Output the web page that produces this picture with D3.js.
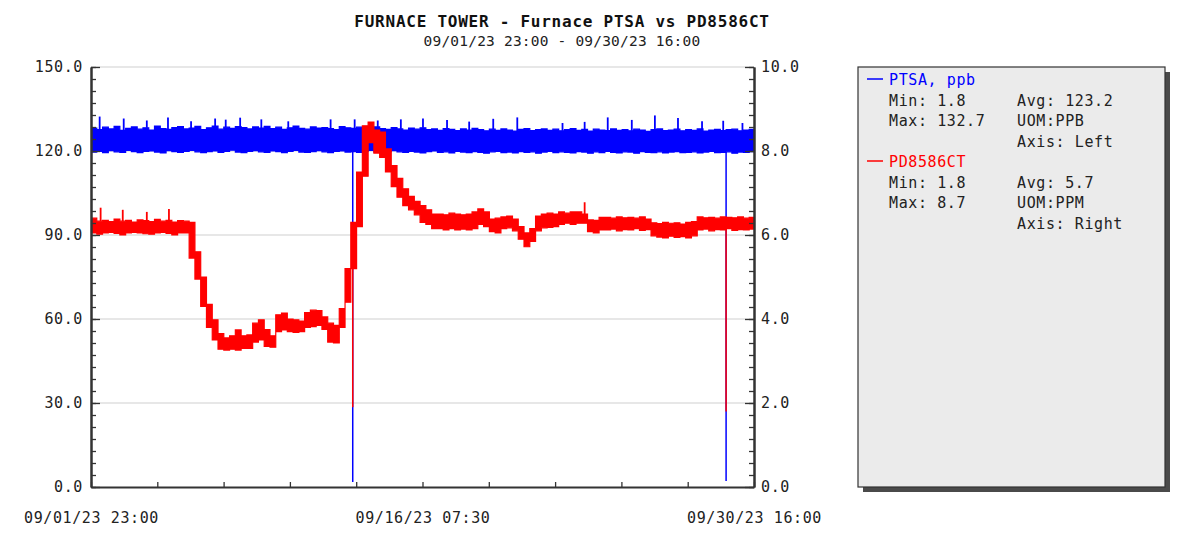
<!DOCTYPE html>
<html>
<head>
<meta charset="utf-8">
<script src="https://cdn.jsdelivr.net/npm/d3@7"></script>
<style>
  body { margin: 0; background: #fff; }
  svg text { font-family: "DejaVu Sans Mono", monospace; fill: #222; }
  .axis path, .axis line { stroke: #333; }
</style>
</head>
<body>
<div id="chart"></div>
<script>
// time span of the trend
var startTime = new Date(2023, 8, 1, 23, 0);
var endTime = new Date(2023, 8, 30, 16, 0);
var titleText = "FURNACE TOWER - Furnace PTSA vs PD8586CT";
var subtitleText = "09/01/23 23:00 - 09/30/23 16:00";
var xTickLabels = ["09/01/23 23:00", "09/16/23 07:30", "09/30/23 16:00"];
var leftTicks = [0, 30, 60, 90, 120, 150];
var rightTicks = [0, 2, 4, 6, 8, 10];

// one reading band (low / high) every 6 hours
var sampleHours = d3.range(0, 691, 6);

var ptsaHigh = [128.2,127.6,128.5,127.9,128.8,127.4,128.1,128.6,127.8,128.3,127.5,128.9,128.0,127.7,128.4,128.7,127.9,128.2,128.8,127.6,
  128.3,128.9,127.8,128.5,128.1,128.7,128.4,127.9,128.6,128.2,128.8,128.0,128.5,127.7,128.3,128.9,128.1,127.8,128.6,128.2,
  128.4,128.0,127.6,128.7,128.3,128.1,128.5,128.2,127.9,128.6,128.0,127.7,128.4,127.9,127.5,128.2,127.8,128.3,127.6,127.9,
  127.4,128.0,127.7,127.3,127.9,127.5,128.1,127.6,127.2,127.8,127.4,127.9,127.5,127.1,127.7,128.0,127.3,127.6,127.9,127.4,
  127.8,127.2,127.6,128.0,127.4,127.7,127.1,127.8,127.5,127.3,127.9,127.4,127.6,127.2,127.8,127.5,127.0,127.6,127.9,127.3,
  127.5,127.8,127.2,127.6,127.4,127.9,127.1,127.5,127.7,127.3,127.6,127.8,127.2,127.5,127.7,127.4];
var ptsaLow = [119.6,119.9,119.4,120.1,119.7,119.5,120.2,119.8,119.4,119.9,120.0,119.6,119.3,120.1,119.8,119.5,119.9,120.2,119.7,119.4,
  119.8,120.0,119.5,119.9,120.3,119.6,119.4,119.9,120.1,119.7,119.5,120.0,119.8,119.4,119.9,120.2,119.6,119.5,119.8,120.1,
  119.7,119.4,119.9,120.0,119.6,119.8,119.5,119.9,120.2,119.6,119.4,119.8,120.1,119.7,119.5,119.9,119.6,119.3,119.8,120.0,
  119.5,119.7,119.3,119.9,119.6,119.4,119.8,119.5,119.2,119.7,119.9,119.4,119.6,119.3,119.8,119.5,119.7,119.2,119.6,119.9,
  119.4,119.7,119.5,119.3,119.8,119.6,119.2,119.7,119.4,119.9,119.5,119.3,119.7,119.6,119.2,119.8,119.5,119.4,119.7,119.3,
  119.6,119.8,119.4,119.5,119.7,119.3,119.6,119.9,119.4,119.5,119.7,119.2,119.6,119.5,119.8,119.4];
var ptsaSpikeHours = [9, 34, 58, 80, 104, 129, 140, 155, 177, 205, 249, 274, 298, 322, 345, 370, 393, 418, 443, 490, 513, 537, 562, 586, 610, 635, 657, 677];
var ptsaSpikeValues = [132.3, 131.6, 130.9, 132.0, 130.6, 131.6, 131.2, 131.9, 131.3, 130.6, 131.3, 131.3, 130.9, 131.3, 131.6, 131.1, 130.5, 131.5, 132.0, 130.0, 130.4, 132.0, 131.1, 132.7, 131.8, 130.6, 130.8, 130.0];
var ptsaDipHours = [272, 660];
var ptsaDipValues = [1.8, 2.1];

var pdLow = [6.05,6.02,6.05,6.06,6.04,6.0,6.05,6.06,6.05,6.03,6.02,6.05,6.06,6.04,6.0,6.05,6.05,
  5.45,4.95,4.3,3.8,3.5,3.28,3.26,3.28,3.26,3.3,3.3,3.45,3.5,3.35,3.33,
  3.7,3.74,3.7,3.68,3.7,3.8,3.82,3.85,3.75,3.45,3.43,3.8,4.4,5.2,6.2,7.4,
  8.2,7.95,7.85,7.5,7.15,6.9,6.7,6.6,6.48,6.3,6.25,6.15,
  6.15,6.12,6.15,6.12,6.14,6.12,6.15,6.25,6.2,6.08,6.05,6.15,6.17,6.1,5.9,5.72,5.85,
  6.1,6.17,6.18,6.2,6.25,6.28,6.25,6.28,6.28,6.08,6.05,6.12,
  6.12,6.14,6.1,6.13,6.12,6.15,6.11,6.13,
  5.98,5.95,5.93,5.97,5.94,5.96,5.93,5.98,
  6.12,6.14,6.1,6.13,6.12,6.15,6.11,6.13,6.12,6.14,6.12];
var pdHigh = [6.4,6.33,6.35,6.32,6.38,6.33,6.35,6.31,6.36,6.34,6.32,6.37,6.33,6.35,6.31,6.34,6.33,
  6.3,5.6,5.0,4.35,3.98,3.65,3.55,3.6,3.74,3.6,3.62,3.9,3.98,3.75,3.6,
  4.1,4.14,4.0,3.98,3.95,4.15,4.21,4.2,4.05,3.9,3.85,4.25,5.2,6.3,7.5,8.6,
  8.69,8.5,8.45,8.05,7.65,7.35,7.1,6.92,6.8,6.7,6.6,6.5,
  6.5,6.48,6.52,6.5,6.48,6.5,6.55,6.62,6.55,6.38,6.4,6.43,6.45,6.38,6.2,6.05,6.15,
  6.45,6.5,6.52,6.5,6.55,6.52,6.55,6.55,6.5,6.36,6.35,6.42,
  6.42,6.4,6.43,6.41,6.42,6.4,6.43,6.38,
  6.29,6.27,6.3,6.28,6.29,6.26,6.3,6.32,
  6.43,6.41,6.42,6.4,6.43,6.42,6.41,6.43,6.4,6.42,6.41];
var pdSpikeHours = [10, 33, 58, 81, 513];
var pdSpikeValues = [6.65, 6.6, 6.55, 6.62, 6.78];
var pdDipHours = [272, 660];
var pdDipValues = [1.9, 1.8];

var legendRows = [
  { name: "PTSA, ppb", color: "#0000ff", min: "1.8", max: "132.7", avg: "123.2", uom: "PPB", axis: "Left" },
  { name: "PD8586CT", color: "#ff0000", min: "1.8", max: "8.7", avg: "5.7", uom: "PPM", axis: "Right" }
];

var margin = { left: 91, top: 67, right: 436, bottom: 50 };
var width = 663, height = 420;

var svg = d3.select("#chart").append("svg")
    .attr("width", 1190)
    .attr("height", 537);

var hourTime = function(h){ return new Date(startTime.getTime() + h * 3600000); };

var x = d3.scaleTime().domain([startTime, endTime]).range([0, width]);
var yLeft = d3.scaleLinear().domain([0, 150]).range([height, 0]);
var yRight = d3.scaleLinear().domain([0, 10]).range([height, 0]);

// titles
svg.append("text").attr("x", 562).attr("y", 27).attr("text-anchor", "middle")
    .style("font-size", "16px").style("font-weight", "bold").style("letter-spacing", "0.75px")
    .style("fill", "#111").text(titleText);
svg.append("text").attr("x", 562).attr("y", 46).attr("text-anchor", "middle")
    .style("font-size", "14.5px").style("letter-spacing", "0.2px").text(subtitleText);

var g = svg.append("g").attr("transform", "translate(" + margin.left + "," + margin.top + ")");

g.append("clipPath").attr("id", "plotclip")
  .append("rect").attr("x", 0).attr("y", -10).attr("width", width).attr("height", height + 10);

// grid lines
g.append("g").selectAll("line").data(leftTicks.filter(function(d){ return d > 0; }))
  .enter().append("line")
    .attr("x1", 0).attr("x2", width)
    .attr("y1", function(d){ return yLeft(d); }).attr("y2", function(d){ return yLeft(d); })
    .style("stroke", "#cfcfcf").style("stroke-width", 1.2);

var plot = g.append("g").attr("clip-path", "url(#plotclip)");

function bucketOf(h){ return Math.min(sampleHours.length - 1, Math.floor(h / 6)); }

function drawSeries(lo, hi, yScale, color, spikeH, spikeV, dipH, dipV){
    var band = sampleHours.map(function(h, i){ return { t: hourTime(h), lo: lo[i], hi: hi[i] }; });
    var area = d3.area().curve(d3.curveStepAfter)
        .x(function(d){ return x(d.t); })
        .y0(function(d){ return yScale(d.lo); })
        .y1(function(d){ return yScale(d.hi); });
    plot.append("path").datum(band).attr("d", area)
        .style("fill", color).style("stroke", color).style("stroke-width", 1.2);

    var spikes = spikeH.map(function(h, i){ return { t: hourTime(h), from: hi[bucketOf(h)], to: spikeV[i] }; });
    plot.append("g").selectAll("line").data(spikes).enter().append("line")
        .attr("x1", function(d){ return x(d.t); }).attr("x2", function(d){ return x(d.t); })
        .attr("y1", function(d){ return yScale(d.from); }).attr("y2", function(d){ return yScale(d.to); })
        .style("stroke", color).style("stroke-width", 1.8);

    var dips = dipH.map(function(h, i){ return { t: hourTime(h), from: lo[bucketOf(h)], to: dipV[i] }; });
    plot.append("g").selectAll("line").data(dips).enter().append("line")
        .attr("x1", function(d){ return x(d.t); }).attr("x2", function(d){ return x(d.t); })
        .attr("y1", function(d){ return yScale(d.from); }).attr("y2", function(d){ return yScale(d.to); })
        .style("stroke", color).style("stroke-width", 1.5);
}

drawSeries(ptsaLow, ptsaHigh, yLeft, "#0000ff", ptsaSpikeHours, ptsaSpikeValues, ptsaDipHours, ptsaDipValues);
drawSeries(pdLow, pdHigh, yRight, "#ff0000", pdSpikeHours, pdSpikeValues, pdDipHours, pdDipValues);

// axes: 7 minor steps per labelled step, all ticks point inward
var minorLeft = d3.range(36).map(function(i){ return i * 150 / 35; });
var minorRight = d3.range(36).map(function(i){ return i * 10 / 35; });

function styleAxis(sel){
    sel.selectAll("path").style("stroke-width", 2);
    sel.selectAll("line").style("stroke-width", 1.3);
    sel.selectAll("text").style("font-size", "15px").style("letter-spacing", "0.6px").style("fill", "#222");
}

g.append("g").attr("class", "axis")
    .call(d3.axisLeft(yLeft).tickValues(minorLeft).tickFormat("").tickSizeInner(-5).tickSizeOuter(0))
    .call(styleAxis);
g.append("g").attr("class", "axis")
    .call(d3.axisLeft(yLeft).tickValues(leftTicks).tickFormat(d3.format(".1f")).tickSizeInner(-9).tickSizeOuter(0).tickPadding(8))
    .call(styleAxis);

g.append("g").attr("class", "axis").attr("transform", "translate(" + width + ",0)")
    .call(d3.axisRight(yRight).tickValues(minorRight).tickFormat("").tickSizeInner(-5).tickSizeOuter(0))
    .call(styleAxis);
g.append("g").attr("class", "axis").attr("transform", "translate(" + width + ",0)")
    .call(d3.axisRight(yRight).tickValues(rightTicks).tickFormat(d3.format(".1f")).tickSizeInner(-9).tickSizeOuter(0).tickPadding(7))
    .call(styleAxis);

var spanMs = endTime - startTime;
var xTicks = d3.range(11).map(function(i){ return new Date(startTime.getTime() + spanMs * i / 10); });
g.append("g").attr("class", "axis").attr("transform", "translate(0," + height + ")")
    .call(d3.axisBottom(x).tickValues(xTicks)
        .tickFormat(function(d, i){ return i % 5 === 0 ? xTickLabels[i / 5] : ""; })
        .tickSizeInner(-5).tickSizeOuter(0).tickPadding(25))
    .call(styleAxis);

// legend panel
var lg = svg.append("g").attr("transform", "translate(858,67)");
lg.append("rect").attr("x", 5).attr("y", 5).attr("width", 307).attr("height", 420).style("fill", "#4a4a4a");
lg.append("rect").attr("x", 0).attr("y", 0).attr("width", 307).attr("height", 420)
    .style("fill", "#ebebeb").style("stroke", "#333").style("stroke-width", 1.2);

legendRows.forEach(function(s, k){
    var top = 18 + k * 82;
    var row = lg.append("g").attr("transform", "translate(0," + top + ")")
        .style("font-size", "15px").style("letter-spacing", "0.6px");
    row.append("line").attr("x1", 9).attr("x2", 25).attr("y1", -6).attr("y2", -6)
        .style("stroke", s.color).style("stroke-width", 1.5);
    row.append("text").attr("x", 31).attr("y", 0).style("fill", s.color).text(s.name);
    row.append("text").attr("x", 31).attr("y", 21).text("Min: " + s.min);
    row.append("text").attr("x", 31).attr("y", 41).text("Max: " + s.max);
    row.append("text").attr("x", 159).attr("y", 21).text("Avg: " + s.avg);
    row.append("text").attr("x", 159).attr("y", 41).text("UOM:" + s.uom);
    row.append("text").attr("x", 159).attr("y", 62).text("Axis: " + s.axis);
});
</script>
</body>
</html>
